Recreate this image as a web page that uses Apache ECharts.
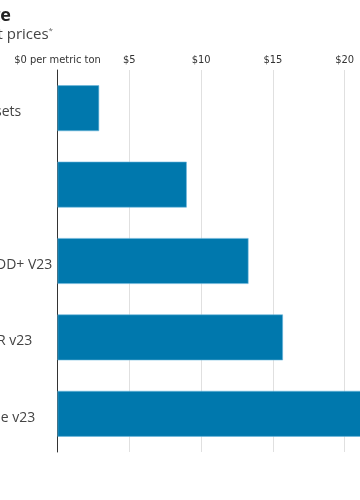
<!DOCTYPE html>
<html>
<head>
<meta charset="utf-8">
<style>html,body{margin:0;padding:0;background:#fff;}#c{width:360px;height:500px;}</style>
<script src="https://cdn.jsdelivr.net/npm/echarts@6/dist/echarts.min.js"></script>
</head>
<body>
<div id="c"></div>
<script>
var categories = ['Voluntary offsets', 'Tech-based', 'Platts CEC REDD+ V23', 'Platts CEC ARR v23', 'Platts CEC Blue v23'];
var values = [2.9, 9.0, 13.3, 15.7, 22.5];
var tickLabels = {0: '$0 per metric ton', 5: '$5', 10: '$10', 15: '$15', 20: '$20', 25: '$25'};

var chart = echarts.init(document.getElementById('c'), null, {renderer: 'canvas'});
chart.setOption({
  animation: false,
  title: [
    {text: 'Carbon price range', left: 6, top: 2, textAlign: 'right',
     textStyle: {fontFamily: 'Open Sans', fontWeight: 'bold', fontSize: 18, color: '#222'}},
    {text: 'Voluntary carbon market prices{a|*}', left: 48, top: 22, textAlign: 'right',
     textStyle: {fontFamily: 'Open Sans', fontWeight: 'normal', fontSize: 15, color: '#444',
       rich: {a: {fontSize: 8, color: '#666', verticalAlign: 'top', fontFamily: 'Open Sans'}}}}
  ],
  grid: {left: 57.5, top: 70, width: 359, height: 382, outerBoundsMode: 'none', containLabel: false},
  xAxis: {
    type: 'value', position: 'top', min: 0, max: 25, interval: 5,
    axisLine: {show: false}, axisTick: {show: false},
    splitLine: {show: true, lineStyle: {color: '#e0e0e0', width: 1}},
    axisLabel: {
      margin: 4, color: '#333', fontFamily: 'DejaVu Sans Condensed, Roboto, sans-serif', fontSize: 11,
      showMinLabel: true, hideOverlap: false,
      formatter: function (v) { return tickLabels[v]; }
    }
  },
  yAxis: {
    type: 'category', data: categories, inverse: true,
    axisLine: {show: true, lineStyle: {color: '#333', width: 1}},
    axisTick: {show: false},
    axisLabel: {align: 'left', margin: 147, color: '#444', fontFamily: 'Open Sans', fontSize: 14,
      formatter: function (v) { return '{a|' + v + '}'; },
      rich: {a: {fontFamily: 'Open Sans', fontSize: 14, color: '#444', padding: [8, 0, 0, 0]}}}
  },
  series: [{
    type: 'bar', data: values, barCategoryGap: '40%',
    itemStyle: {color: '#0078ad', borderColor: '#6cb8de', borderWidth: 0.6}
  }]
});
</script>
</body>
</html>
